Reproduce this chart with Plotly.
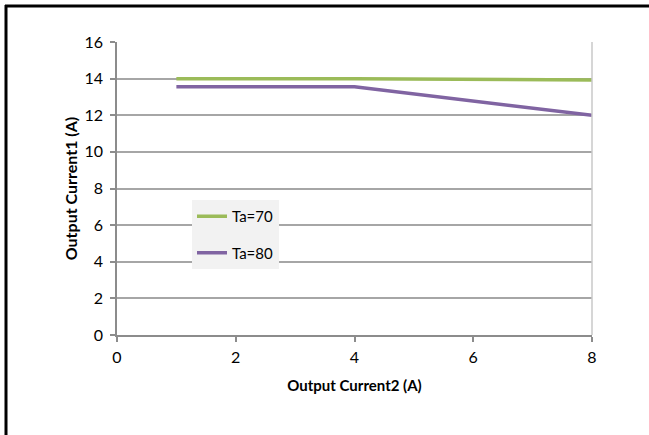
import plotly.graph_objects as go

x_vals = [1, 4, 8]
ta70 = [14.0, 14.0, 13.93]
ta80 = [13.55, 13.55, 12.0]
series_names = ["Ta=70", "Ta=80"]
x_ticks = [0, 2, 4, 6, 8]
y_ticks = [0, 2, 4, 6, 8, 10, 12, 14, 16]

FONT = "Lato, 'Open Sans', sans-serif"

fig = go.Figure()
fig.add_trace(go.Scatter(x=x_vals, y=ta70, mode="lines", name=series_names[0],
                         legendgroup="a", line=dict(color="#9BBB59", width=3.5)))
fig.add_trace(go.Scatter(x=x_vals, y=ta80, mode="lines", name=series_names[1],
                         legendgroup="b", line=dict(color="#8064A2", width=3.5)))

W, H = 649, 435
L, T = 117, 42
pw, ph = 475, 293
R, B = W - L - pw, H - T - ph

def px(xp):
    return (xp - L) / pw

def py(yp):
    return (T + ph - yp) / ph

fig.update_layout(
    width=W, height=H,
    margin=dict(l=L, r=R, t=T, b=B, pad=0),
    paper_bgcolor="white", plot_bgcolor="white",
    font=dict(family=FONT, size=14, color="#000"),
    showlegend=True,
    legend=dict(x=px(192), y=py(200), xanchor="left", yanchor="top",
                bgcolor="#F2F2F2", borderwidth=0,
                font=dict(size=15, family=FONT),
                traceorder="grouped", tracegroupgap=14),
    xaxis=dict(range=[0, 8], tickvals=x_ticks, showgrid=False,
               showline=True, linecolor="#8C8C8C", linewidth=1.5,
               ticks="outside", ticklen=5, tickcolor="#8C8C8C", tickwidth=1.5,
               tickfont=dict(size=16), zeroline=False, mirror=False,
               ticklabelstandoff=2,
               title=dict(text="<b>Output Current2 (A)</b>", font=dict(size=15), standoff=16)),
    yaxis=dict(range=[0, 16], tickvals=y_ticks, showgrid=True, gridcolor="#A6A6A6", gridwidth=1.5,
               showline=True, linecolor="#8C8C8C", linewidth=1.5,
               ticks="outside", ticklen=5, tickcolor="#8C8C8C", tickwidth=1.5,
               tickfont=dict(size=16), zeroline=False,
               ticklabelstandoff=4,
               title=dict(text="<b>Output Current1 (A)</b>", font=dict(size=16), standoff=3)),
)

# light plot-area border on the right
fig.add_shape(type="line", xref="paper", yref="paper", x0=1, x1=1, y0=0, y1=1,
              line=dict(color="#C8C8C8", width=1.5))
# outer frame (top and left edges only)
fig.add_shape(type="line", xref="paper", yref="paper", x0=px(5), x1=px(660), y0=py(6), y1=py(6),
              line=dict(color="black", width=3))
fig.add_shape(type="line", xref="paper", yref="paper", x0=px(6), x1=px(6), y0=py(5), y1=py(450),
              line=dict(color="black", width=3))

fig.write_html("out.html", config={"displayModeBar": False},
               post_script="document.body.style.margin='0';document.body.style.overflow='hidden';")
